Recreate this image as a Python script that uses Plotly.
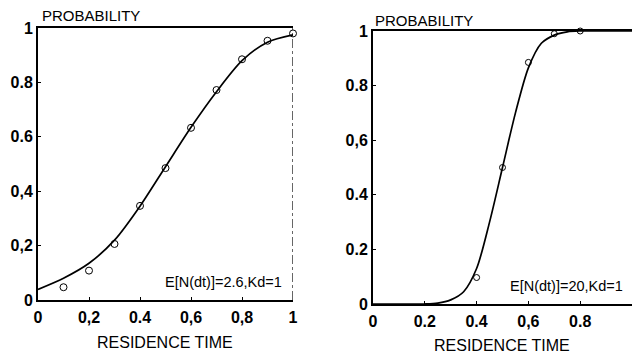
import plotly.graph_objects as go

# Left panel: E[N(dt)]=2.6, Kd=1
left_pts_x = [0.1, 0.2, 0.3, 0.4, 0.5, 0.6, 0.7, 0.8, 0.9, 1.0]
left_pts_y = [0.047, 0.108, 0.206, 0.346, 0.485, 0.633, 0.772, 0.885, 0.953, 0.98]
left_curve_x = [0.0, 0.1, 0.2, 0.3, 0.4, 0.5, 0.6, 0.7, 0.8, 0.9, 1.0]
left_curve_y = [0.039, 0.08, 0.135, 0.22, 0.345, 0.49, 0.635, 0.766, 0.88, 0.948, 0.975]

# Right panel: E[N(dt)]=20, Kd=1
right_pts_x = [0.4, 0.5, 0.6, 0.7, 0.8]
right_pts_y = [0.097, 0.5, 0.885, 0.99, 1.0]
right_curve_x = [0.0, 0.2, 0.25, 0.3, 0.35, 0.4, 0.45, 0.5, 0.55, 0.6, 0.65, 0.7, 0.75, 0.8, 0.9, 1.0]
right_curve_y = [0.0, 0.0, 0.003, 0.015, 0.045, 0.13, 0.3, 0.5, 0.7, 0.865, 0.955, 0.985, 0.997, 1.0, 1.0, 1.0]

tick_vals = [0, 0.2, 0.4, 0.6, 0.8, 1]
left_x_ticks = ["0", "0,2", "0.4", "0,6", "0,8", "1"]
left_y_ticks = ["0", "0,2", "0,4", "0.6", "0.8", "1"]
right_x_ticks = ["0", "0.2", "0.4", "0,6", "0.8", "1"]
right_y_ticks = ["0", "0.2", "0.4", "0,6", "0.8", "1"]

W, H = 635, 357
FONT = "Liberation Sans"

def px(x):
    return x / W

def py(y):
    return 1 - y / H

fig = go.Figure()

line_style = dict(color="black", width=1.7, shape="spline", smoothing=0.8)
marker_style = dict(symbol="circle-open", size=7, color="black", line=dict(width=1))

fig.add_trace(go.Scatter(x=left_curve_x, y=left_curve_y, mode="lines", line=line_style,
                         xaxis="x", yaxis="y", showlegend=False, hoverinfo="skip"))
fig.add_trace(go.Scatter(x=left_pts_x, y=left_pts_y, mode="markers", marker=marker_style,
                         xaxis="x", yaxis="y", showlegend=False, cliponaxis=False))
fig.add_trace(go.Scatter(x=right_curve_x, y=right_curve_y, mode="lines", line=line_style,
                         xaxis="x2", yaxis="y2", showlegend=False, hoverinfo="skip"))
fig.add_trace(go.Scatter(x=right_pts_x, y=right_pts_y, mode="markers",
                         marker=dict(symbol="circle-open", size=6, color="black", line=dict(width=1)),
                         xaxis="x2", yaxis="y2", showlegend=False, cliponaxis=False))

tickfont = dict(family=FONT, size=16, color="black", weight="bold")
common_axis = dict(range=[0, 1], showgrid=False, zeroline=False, showline=True,
                   linecolor="black", ticks="inside", ticklen=3, tickcolor="black",
                   tickvals=tick_vals, tickfont=tickfont, fixedrange=True, automargin=False)

fig.update_layout(
    width=W, height=H,
    margin=dict(l=0, r=0, t=0, b=0, autoexpand=False),
    paper_bgcolor="white", plot_bgcolor="white",
    xaxis=dict(common_axis, domain=[px(38), px(293)], anchor="y", ticktext=left_x_ticks,
               linewidth=1.5, mirror=True, ticklabelstandoff=2),
    yaxis=dict(common_axis, domain=[py(300), py(28)], anchor="x", ticktext=left_y_ticks,
               linewidth=2, ticklabelstandoff=0),
    xaxis2=dict(common_axis, domain=[px(373), px(632)], anchor="y2", ticktext=right_x_ticks,
                linewidth=1.5, mirror=True, ticklabelstandoff=2),
    yaxis2=dict(common_axis, domain=[py(304), py(31)], anchor="x2", ticktext=right_y_ticks,
                linewidth=2, ticklabelstandoff=0),
    font=dict(family=FONT, color="black"),
)

# dash-dot right frame on left panel
fig.add_shape(type="line", xref="x", yref="y", x0=1, x1=1, y0=0, y1=1,
              line=dict(color="black", width=1.2, dash="dashdot"))

annotations = [
    dict(text="PROBABILITY", x=px(40), y=py(16), xanchor="left", yanchor="middle", size=15),
    dict(text="RESIDENCE TIME", x=px(165), y=py(342), xanchor="center", yanchor="middle", size=16),
    dict(text="E[N(dt)]=2.6,Kd=1", x=px(284), y=py(282), xanchor="right", yanchor="middle", size=14.5),
    dict(text="PROBABILITY", x=px(373), y=py(20), xanchor="left", yanchor="middle", size=15),
    dict(text="RESIDENCE TIME", x=px(502), y=py(345), xanchor="center", yanchor="middle", size=16),
    dict(text="E[N(dt)]=20,Kd=1", x=px(625), y=py(286), xanchor="right", yanchor="middle", size=14.5),
]
for a in annotations:
    size = a.pop("size")
    fig.add_annotation(xref="paper", yref="paper", showarrow=False,
                       font=dict(family=FONT, size=size, color="black"), **a)

fig.write_html("out.html")
